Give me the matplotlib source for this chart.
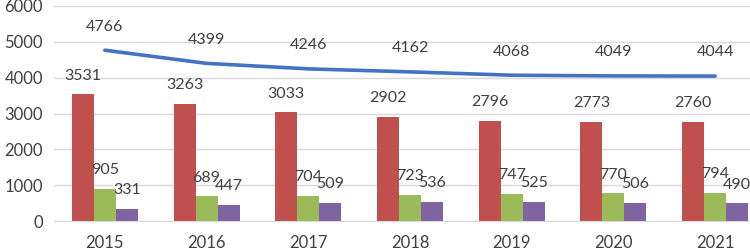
import matplotlib.pyplot as plt
import numpy as np

plt.rcParams['font.family'] = ['Lato', 'DejaVu Sans']

anios = ["2015", "2016", "2017", "2018", "2019", "2020", "2021"]
linea_azul = [4766, 4399, 4246, 4162, 4068, 4049, 4044]
barras_rojas = [3531, 3263, 3033, 2902, 2796, 2773, 2760]
barras_verdes = [905, 689, 704, 723, 747, 770, 794]
barras_moradas = [331, 447, 509, 536, 525, 506, 490]

AZUL = "#4472C4"
ROJO = "#C0504D"
VERDE = "#9BBB59"
MORADO = "#8064A2"
TEXTO = "#404040"

fig = plt.figure(figsize=(7.5, 2.52), dpi=100)
# el area del grafico se sale un poco por la derecha, como en la imagen original
ax = fig.add_axes([54 / 750, 31 / 252, 712 / 750, 215 / 252])

x = np.arange(len(anios))
ancho = 0.216

series = [(barras_rojas, ROJO, -ancho), (barras_verdes, VERDE, 0), (barras_moradas, MORADO, ancho)]
for valores, color, desp in series:
    ax.bar(x + desp, valores, width=ancho, color=color, zorder=2)
    for xi, v in zip(x + desp, valores):
        ax.annotate(str(v), (xi, v), xytext=(0, 13.5), textcoords="offset points",
                    ha="center", va="center", fontsize=11.5, color=TEXTO, zorder=4)

ax.plot(x, linea_azul, color=AZUL, linewidth=2.6, solid_capstyle="round", zorder=3)
for xi, v in zip(x, linea_azul):
    ax.annotate(str(v), (xi, v), xytext=(0, 17), textcoords="offset points",
                ha="center", va="center", fontsize=11.5, color=TEXTO, zorder=4)

ax.set_xlim(-0.5, len(anios) - 0.5)
ax.set_ylim(0, 6000)
ax.set_yticks(range(0, 6001, 1000))
ax.set_xticks(x)
ax.set_xticklabels(anios)
ax.tick_params(axis="both", length=0, labelsize=12, colors=TEXTO)
ax.tick_params(axis="x", pad=10)
ax.tick_params(axis="y", pad=8)
ax.grid(axis="y", color="#D9D9D9", linewidth=1, zorder=0)
ax.set_axisbelow(True)
for lado in ["top", "right", "left"]:
    ax.spines[lado].set_visible(False)
ax.spines["bottom"].set_color("#D9D9D9")

fig.savefig("out.png", dpi=100)
